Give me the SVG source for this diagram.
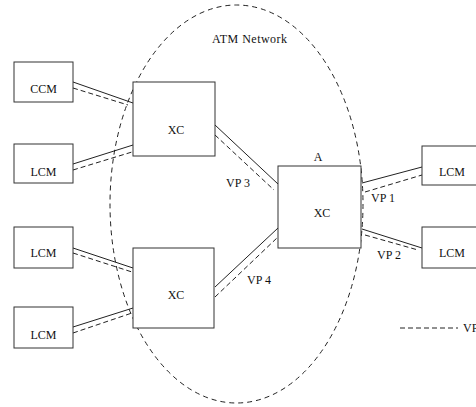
<svg xmlns="http://www.w3.org/2000/svg" width="476" height="407" viewBox="0 0 476 407">
<style>
  .box { fill: #fff; stroke: #333; stroke-width: 1; }
  .lbl { font-family: "Liberation Serif", "Times New Roman", serif; font-size: 12px; fill: #111; }
  .solid { stroke: #222; stroke-width: 1; fill: none; }
  .dash { stroke: #222; stroke-width: 1; fill: none; stroke-dasharray: 5 3; }
  .net { stroke: #222; stroke-width: 1; fill: none; stroke-dasharray: 5 4; }
</style>
<rect width="476" height="407" fill="#fff"/>
<g id="network">
  <ellipse class="net" cx="236.5" cy="204" rx="126.5" ry="199"/>
  <text class="lbl" x="212" y="43" textLength="75">ATM Network</text>
</g>
<g id="connectors">
  <line class="solid" x1="73" y1="82" x2="133" y2="103"/>
  <line class="dash" x1="73" y1="88" x2="128" y2="105"/>
  <line class="solid" x1="73" y1="164" x2="133" y2="145"/>
  <line class="dash" x1="73" y1="170" x2="132" y2="152"/>
  <line class="solid" x1="215" y1="125" x2="278" y2="184"/>
  <line class="dash" x1="215" y1="135" x2="274" y2="190"/>
  <line class="solid" x1="73" y1="248" x2="133" y2="268"/>
  <line class="dash" x1="73" y1="253" x2="132" y2="272"/>
  <line class="solid" x1="73" y1="327" x2="133" y2="308"/>
  <line class="dash" x1="73" y1="333" x2="132" y2="313"/>
  <line class="solid" x1="215" y1="287" x2="278" y2="228"/>
  <line class="dash" x1="215" y1="297" x2="278" y2="237"/>
  <line class="solid" x1="362" y1="183" x2="422" y2="167"/>
  <line class="dash" x1="365" y1="192" x2="422" y2="175"/>
  <line class="solid" x1="362" y1="229" x2="422" y2="248"/>
  <line class="dash" x1="365" y1="235" x2="418" y2="250"/>
  <text class="lbl" x="226" y="187">VP 3</text>
  <text class="lbl" x="371" y="202">VP 1</text>
  <text class="lbl" x="377" y="259">VP 2</text>
  <text class="lbl" x="247" y="284">VP 4</text>
</g>
<g id="ccm">
  <rect class="box" x="14" y="62" width="59" height="40"/>
  <text class="lbl" x="43.5" y="93" text-anchor="middle">CCM</text>
</g>
<g id="lcm1">
  <rect class="box" x="14" y="144" width="59" height="39"/>
  <text class="lbl" x="43.5" y="176" text-anchor="middle">LCM</text>
</g>
<g id="lcm2">
  <rect class="box" x="14" y="227" width="59" height="41"/>
  <text class="lbl" x="43.5" y="257" text-anchor="middle">LCM</text>
</g>
<g id="lcm3">
  <rect class="box" x="14" y="307" width="59" height="41"/>
  <text class="lbl" x="43.5" y="339" text-anchor="middle">LCM</text>
</g>
<g id="xc1">
  <rect class="box" x="133" y="82" width="82" height="74"/>
  <text class="lbl" x="176" y="134" text-anchor="middle">XC</text>
</g>
<g id="xc2">
  <rect class="box" x="133" y="248" width="81" height="80"/>
  <text class="lbl" x="176" y="299" text-anchor="middle">XC</text>
</g>
<g id="xcA">
  <rect class="box" x="278" y="166" width="83" height="82"/>
  <text class="lbl" x="322" y="217" text-anchor="middle">XC</text>
  <text class="lbl" x="318" y="161" text-anchor="middle">A</text>
</g>
<g id="lcm4">
  <rect class="box" x="422" y="146" width="60" height="39"/>
  <text class="lbl" x="452" y="176" text-anchor="middle">LCM</text>
</g>
<g id="lcm5">
  <rect class="box" x="422" y="227" width="60" height="41"/>
  <text class="lbl" x="452" y="257" text-anchor="middle">LCM</text>
</g>
<g id="legend">
  <line class="dash" x1="400" y1="328" x2="458" y2="328"/>
  <text class="lbl" x="463" y="332">VP</text>
</g>
</svg>
